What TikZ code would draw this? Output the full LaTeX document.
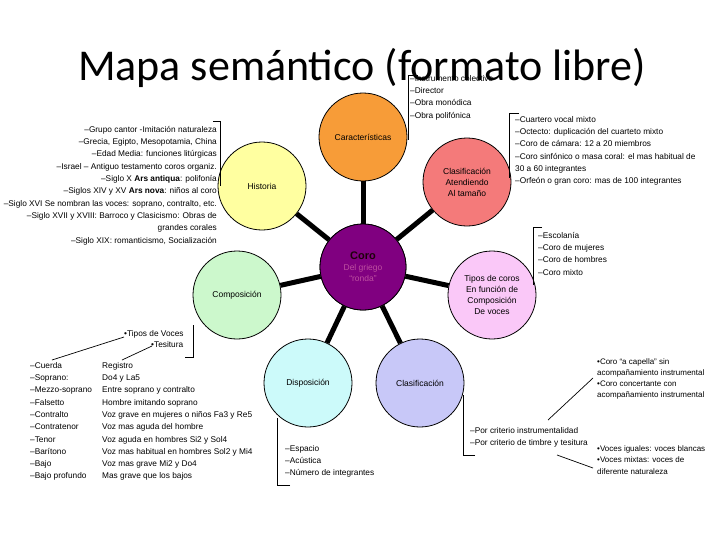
\documentclass[tikz,border=0pt]{standalone}
\usepackage{fontspec}
\setmainfont{Liberation Sans}
\newfontfamily\titlefont{Carlito}
\begin{document}
\begin{tikzpicture}[x=1pt,y=-1pt,
  bub/.style={circle,draw=black,line width=0.8pt,minimum size=88pt,inner sep=0pt,align=center,font=\fontsize{8.5}{11}\selectfont},
  link/.style={line width=5pt},
  brk/.style={line width=0.8pt},
  lst/.style={font=\fontsize{8.3}{12.3}\selectfont,inner sep=0pt,align=left},
  thin/.style={line width=0.7pt}]
\useasboundingbox (0,0) rectangle (728,546);
\fill[white] (0,0) rectangle (728,546);
% circles
\node[bub,fill={rgb,255:red,128;green,0;blue,128},minimum size=86pt] (coro) at (363,267) {};
\node[bub,fill={rgb,255:red,247;green,156;blue,56}] (car) at (363,137) {Características};
\node[bub,fill={rgb,255:red,244;green,122;blue,122}] (tam) at (467,182) {Clasificación\\Atendiendo\\Al tamaño};
\node[bub,fill={rgb,255:red,250;green,200;blue,248}] (tip) at (492,295) {Tipos de coros\\En función de\\Composición\\De voces};
\node[bub,fill={rgb,255:red,200;green,200;blue,248}] (cla) at (420,383) {Clasificación};
\node[bub,fill={rgb,255:red,204;green,250;blue,250}] (dis) at (308,383) {Disposición};
\node[bub,fill={rgb,255:red,204;green,248;blue,204}] (com) at (237,295) {Composición};
\node[bub,fill={rgb,255:red,255;green,255;blue,160}] (his) at (262,186) {Historia};
% links
\foreach \n in {car,tam,tip,cla,dis,com,his}{\draw[link] (coro) -- (\n);}
\node[bub,fill={rgb,255:red,128;green,0;blue,128},minimum size=86pt,text={rgb,255:red,190;green,80;blue,160}] (coroT) at (363,267) {{\fontsize{11}{12}\selectfont\bfseries\color{black!85!purple}Coro}\\Del griego\\“ronda”};
% brackets
\coordinate (h1) at (213,121); \coordinate (h2) at (220,121); \coordinate (h3) at (220,186);
\draw[brk] (h1) -- (h2) -- (h3);
\coordinate (c1) at (418,75); \coordinate (c2) at (408,75); \coordinate (c3) at (408,140);
\draw[brk] (c1) -- (c2) -- (c3);
\coordinate (t1) at (519,113); \coordinate (t2) at (509,113); \coordinate (t3) at (509,178);
\draw[brk] (t1) -- (t2) -- (t3);
\coordinate (p1) at (542,227); \coordinate (p2) at (533,227); \coordinate (p3) at (533,285);
\draw[brk] (p1) -- (p2) -- (p3);
\coordinate (d1) at (290,485); \coordinate (d2) at (277,485); \coordinate (d3) at (277,418);
\draw[brk] (d1) -- (d2) -- (d3);
\coordinate (k1) at (475,455); \coordinate (k2) at (463,455); \coordinate (k3) at (463,395);
\draw[brk] (k1) -- (k2) -- (k3);
\coordinate (m1) at (185,357); \coordinate (m2) at (193,357); \coordinate (m3) at (193,325);
\draw[brk] (m1) -- (m2) -- (m3);
% lists
\node[lst,align=right,anchor=north east] (hl) at (217,126) {–Grupo cantor -Imitación naturaleza\\–Grecia, Egipto, Mesopotamia, China\\–Edad Media: funciones litúrgicas\\–Israel – Antiguo testamento coros organiz.\\–Siglo X \textbf{Ars antiqua}: polifonía\\–Siglos XIV y XV \textbf{Ars nova}: niños al coro\\–Siglo XVI Se nombran las voces: soprano, contralto, etc.\\–Siglo XVII y XVIII: Barroco y Clasicismo: Obras de\\grandes corales\\–Siglo XIX: romanticismo, Socialización};
\node[lst,anchor=north west] (cl) at (410,75) {–Instrumento colectivo\\–Director\\–Obra monódica\\–Obra polifónica};
\node[lst,anchor=north west] (tl) at (515,116) {–Cuartero vocal mixto\\–Octecto: duplicación del cuarteto mixto\\–Coro de cámara: 12 a 20 miembros\\–Coro sinfónico o masa coral: el mas habitual de\\30 a 60 integrantes\\–Orfeón o gran coro: mas de 100 integrantes};
\node[lst,anchor=north west] (pl) at (538,232) {–Escolanía\\–Coro de mujeres\\–Coro de hombres\\–Coro mixto};
\node[lst,anchor=north west] (dl) at (285,445) {–Espacio\\–Acústica\\–Número de integrantes};
\node[lst,anchor=north west] (kl) at (470,427) {–Por criterio instrumentalidad\\–Por criterio de timbre y tesitura};
\node[lst,anchor=north west,font=\fontsize{8}{11}\selectfont] (r1) at (597,358) {•Coro “a capella” sin\\acompañamiento instrumental\\•Coro concertante con\\acompañamiento instrumental};
\node[lst,anchor=north west,font=\fontsize{8}{11.5}\selectfont] (r2) at (597,445) {•Voces iguales: voces blancas\\•Voces mixtas: voces de\\diferente naturaleza};
\node[lst,anchor=north west] (tv) at (124,330) {•Tipos de Voces};
\node[lst,anchor=north west] (te) at (151,341) {•Tesitura};
\node[lst,anchor=north west] (v1) at (30,362) {–Cuerda\\–Soprano:\\–Mezzo-soprano\\–Falsetto\\–Contralto\\–Contratenor\\–Tenor\\–Barítono\\–Bajo\\–Bajo profundo};
\node[lst,anchor=north west] (v2) at (102,362) {Registro\\Do4 y La5\\Entre soprano y contralto\\Hombre imitando soprano\\Voz grave en mujeres o niños Fa3 y Re5\\Voz mas aguda del hombre\\Voz aguda en hombres Si2 y Sol4\\Voz mas habitual en hombres Sol2 y Mi4\\Voz mas grave Mi2 y Do4\\Mas grave que los bajos};
% thin pointer lines
\coordinate (a1) at (52,360); \coordinate (a2) at (124,337);
\draw[thin] (a1) -- (a2);
\coordinate (b1) at (122,360); \coordinate (b2) at (152,346);
\draw[thin] (b1) -- (b2);
\coordinate (e1) at (548,420); \coordinate (e2) at (593,378);
\draw[thin] (e1) -- (e2);
\coordinate (f1) at (557,455); \coordinate (f2) at (593,468);
\draw[thin] (f1) -- (f2);
% title
\node[font=\titlefont\fontsize{44}{48}\selectfont,inner sep=0pt] (title) at (362,68) {Mapa semántico (formato libre)};
\end{tikzpicture}
\end{document}
